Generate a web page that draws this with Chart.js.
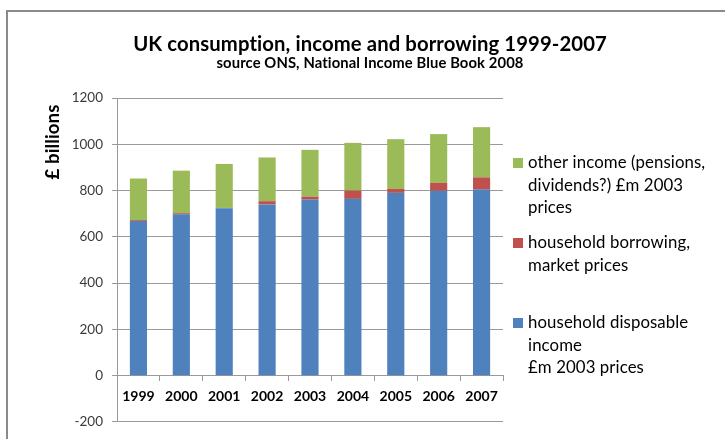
<!DOCTYPE html>
<html>
<head>
<meta charset="utf-8">
<title>UK consumption, income and borrowing 1999-2007</title>
<script src="https://cdn.jsdelivr.net/npm/chart.js@4.4.1/dist/chart.umd.min.js"></script>
<style>
  html, body { margin: 0; padding: 0; background: #fff; }
  #wrap { position: relative; width: 725px; height: 439px; }
</style>
</head>
<body>
<div id="wrap"><canvas id="borrowChart" width="725" height="439"></canvas></div>
<script>
/* =====================================================
   DATA (£ billions)
   ===================================================== */
const years = ["1999", "2000", "2001", "2002", "2003", "2004", "2005", "2006", "2007"];
const disposableIncome = [668, 697, 724, 740, 761, 764, 790, 799, 804];
const householdBorrowing = [4, 5, 1, 14, 13, 36, 17, 34, 53];
const otherIncome = [180, 184, 190, 189, 202, 206, 215, 211, 217];
const yTicks = [-200, 0, 200, 400, 600, 800, 1000, 1200];

const chartTitle = "UK consumption, income and borrowing 1999-2007";
const chartSubtitle = "source ONS, National Income Blue Book 2008";
const yAxisTitle = "£ billions";

// legend text, already wrapped like the original
const otherLines = ["other income (pensions,", "dividends?) £m 2003", "prices"];
const borrowingLines = ["household borrowing,", "market prices"];
const disposableLines = ["household disposable", "income", "£m 2003 prices"];

const BLUE = "#4f81bd";
const RED = "#c0504d";
const GREEN = "#9bbb59";
const GRID = "#9a9a9a";
const FONT = "Lato, 'Open Sans', sans-serif";

// pick a font size so the text comes out at a given width
function fitFont(c, text, weight, width) {
  c.font = `${weight} 20px ${FONT}`;
  const size = 20 * width / c.measureText(text).width;
  return `${weight} ${size.toFixed(1)}px ${FONT}`;
}

const decorPlugin = {
  id: "decor",
  afterDraw(chart) {
    const c = chart.ctx;
    c.save();
    c.letterSpacing = "0.1px"; // stops Lato from joining "ti"

    // outer frame (only top and left show in the crop)
    c.strokeStyle = "#8a8a8a";
    c.lineWidth = 2;
    c.beginPath();
    c.moveTo(7, 439);
    c.lineTo(7, 11);
    c.lineTo(725, 11);
    c.stroke();

    // titles
    c.fillStyle = "#000";
    c.textAlign = "center";
    c.textBaseline = "middle";
    c.font = fitFont(c, chartTitle, "bold", 474);
    c.fillText(chartTitle, 370, 44);
    c.font = fitFont(c, chartSubtitle, "bold", 305);
    c.fillText(chartSubtitle, 370, 63);

    // y axis title, rotated
    c.save();
    c.translate(53, 142);
    c.rotate(-Math.PI / 2);
    c.font = fitFont(c, yAxisTitle, "bold", 75);
    c.fillText(yAxisTitle, 0, 0);
    c.restore();

    // legend
    const items = [
      { lines: otherLines, color: GREEN },
      { lines: borrowingLines, color: RED },
      { lines: disposableLines, color: BLUE }
    ];
    const legendFont = fitFont(c, otherLines[0], "normal", 177);
    c.textAlign = "left";
    items.forEach((item, i) => {
      const top = 163 + i * 80;
      c.fillStyle = item.color;
      c.fillRect(513, top - 5, 10, 10);
      c.fillStyle = "#000";
      c.font = legendFont;
      item.lines.forEach((line, j) => {
        c.fillText(line, 528, top + j * 22.4);
      });
    });

    c.restore();
  }
};

document.addEventListener("DOMContentLoaded", () => {
  const chartCanvas = document.getElementById("borrowChart");
  if (!chartCanvas || !window.Chart) return;
  const ctx = chartCanvas.getContext("2d");

  new Chart(ctx, {
    type: "bar",
    data: {
      labels: years,
      datasets: [
        {
          label: disposableLines.join(" "),
          data: disposableIncome,
          backgroundColor: BLUE,
          borderWidth: 0,
        },
        {
          label: borrowingLines.join(" "),
          data: householdBorrowing,
          backgroundColor: RED,
          borderWidth: 0,
        },
        {
          label: otherLines.join(" "),
          data: otherIncome,
          backgroundColor: GREEN,
          borderWidth: 0,
        }
      ],
    },
    options: {
      responsive: false,
      animation: false,
      devicePixelRatio: 1,
      layout: { padding: { left: 60, right: 222, top: 98, bottom: 16 } },
      datasets: { bar: { categoryPercentage: 1, barPercentage: 0.4 } },
      plugins: {
        legend: { display: false },
        tooltip: { enabled: false },
      },
      scales: {
        x: {
          stacked: true,
          position: { y: 0 },
          grid: { drawOnChartArea: false, tickLength: 5, color: GRID, offset: true },
          border: { color: GRID },
          ticks: {
            color: "#000",
            font: { family: FONT, size: 14, weight: "bold" },
            padding: 7,
            maxRotation: 0,
          }
        },
        y: {
          stacked: true,
          min: -200,
          max: 1200,
          afterFit: (scale) => { scale.width = 57; },
          afterBuildTicks: (scale) => { scale.ticks = yTicks.map(v => ({ value: v })); },
          grid: { color: GRID, tickLength: 5 },
          border: { color: GRID },
          ticks: {
            color: "#3a3a3a",
            font: { family: FONT, size: 13.5 },
            padding: 9,
            callback: (value) => String(value),
          }
        }
      }
    },
    plugins: [decorPlugin]
  });
});
</script>
</body>
</html>
